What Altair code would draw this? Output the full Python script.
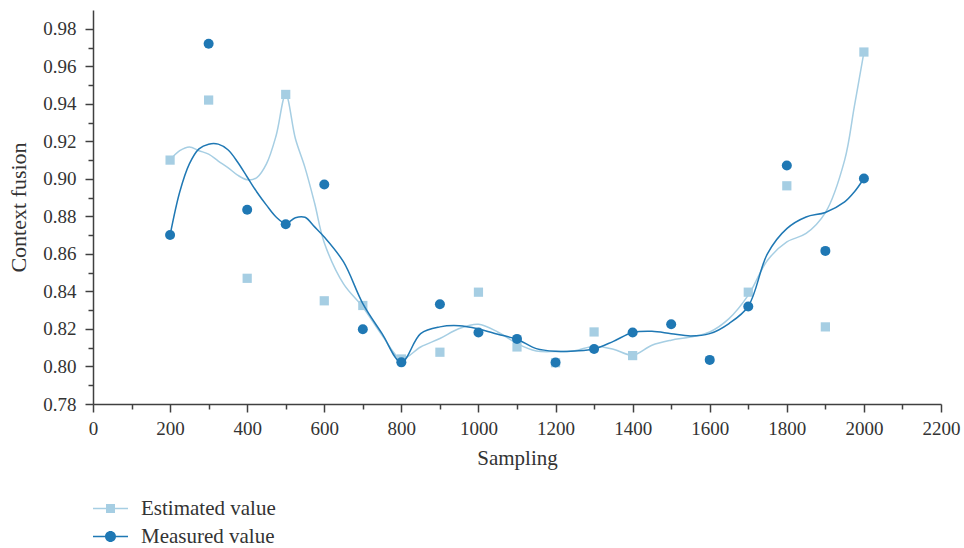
import altair as alt
import pandas as pd

# ---- data ----
series_names = ["Estimated value", "Measured value"]
sample_x = [200, 300, 400, 500, 600, 700, 800, 900, 1000, 1100, 1200, 1300, 1400,
            1500, 1600, 1700, 1800, 1900, 2000]
estimated = [0.910, 0.942, 0.847, 0.945, 0.835, 0.8325, 0.804, 0.8076, 0.8396, 0.8104,
             0.802, 0.8184, 0.8058, None, None, 0.8396, 0.8963, 0.8211, 0.9676]
measured = [0.8701, 0.972, 0.8835, 0.8758, 0.897, 0.8198, 0.8022, 0.8332, 0.8181, 0.8147,
            0.8021, 0.8093, 0.8181, 0.8225, 0.8035, 0.832, 0.9071, 0.8616, 0.9002]

# smoothed fit curves
curve_x = [200, 225, 250, 275, 300, 325, 350, 375, 400, 425, 450, 475, 500, 525, 550, 575,
           600, 650, 700, 750, 800, 850, 900, 950, 1000, 1050, 1100, 1150, 1200, 1250,
           1300, 1350, 1400, 1450, 1500, 1550, 1600, 1650, 1700, 1750, 1800, 1850, 1900,
           1950, 1975, 2000]
curve_est = [0.910, 0.915, 0.917, 0.915, 0.9132, 0.9095, 0.906, 0.902, 0.8995, 0.9007,
             0.908, 0.923, 0.945, 0.9215, 0.906, 0.887, 0.866, 0.844, 0.8317, 0.8166,
             0.804, 0.8104, 0.8149, 0.8202, 0.8225, 0.8184, 0.8122, 0.8083, 0.808, 0.8084,
             0.8108, 0.8092, 0.806, 0.8113, 0.814, 0.8157, 0.8184, 0.8255, 0.838, 0.8566,
             0.8664, 0.8709, 0.882, 0.910, 0.9384, 0.9674]
curve_meas = [0.870, 0.893, 0.908, 0.916, 0.9185, 0.9185, 0.9155, 0.909, 0.901, 0.893,
              0.886, 0.8797, 0.8762, 0.8793, 0.8795, 0.8744, 0.869, 0.8557, 0.8335, 0.8175,
              0.8022, 0.8175, 0.8211, 0.8217, 0.820, 0.8172, 0.8145, 0.8095, 0.8081, 0.8083,
              0.8093, 0.8134, 0.8181, 0.8188, 0.8175, 0.8163, 0.8175, 0.8229, 0.8321, 0.8602,
              0.8735, 0.8797, 0.8821, 0.8877, 0.893, 0.9002]

x_ticks = [0, 200, 400, 600, 800, 1000, 1200, 1400, 1600, 1800, 2000, 2200]
x_minor = [100, 300, 500, 700, 900, 1100, 1300, 1500, 1700, 1900, 2100]
y_ticks = [0.78, 0.80, 0.82, 0.84, 0.86, 0.88, 0.90, 0.92, 0.94, 0.96, 0.98]
y_minor = [0.79, 0.81, 0.83, 0.85, 0.87, 0.89, 0.91, 0.93, 0.95, 0.97]

LIGHT = "#a6cee3"
DARK = "#1f78b4"
AX = "#404040"
TXT = "#333333"
FONT = "Liberation Serif"

est_df = pd.DataFrame({"x": sample_x, "v": estimated, "series": series_names[0]}).dropna()
meas_df = pd.DataFrame({"x": sample_x, "v": measured, "series": series_names[1]})
cest_df = pd.DataFrame({"x": curve_x, "v": curve_est})
cmeas_df = pd.DataFrame({"x": curve_x, "v": curve_meas})

xs = alt.Scale(domain=[0, 2200], nice=False, zero=False)
ys = alt.Scale(domain=[0.78, 0.99], nice=False, zero=False)

main_x_axis = alt.Axis(values=x_ticks, orient="bottom", title="Sampling", grid=False, format="d",
                       tickSize=8, tickWidth=1.5, tickColor=AX, domainColor=AX, domainWidth=1.5,
                       labelFont=FONT, labelFontSize=19, labelColor=TXT, labelPadding=7,
                       labelFlush=False, labelOverlap=False,
                       titleFont=FONT, titleFontSize=21, titleFontWeight="normal",
                       titleColor=TXT, titlePadding=9)
main_y_axis = alt.Axis(values=y_ticks, orient="left", title="Context fusion", format=".2f",
                       grid=False, tickSize=8, tickWidth=1.5, tickColor=AX, domainColor=AX,
                       domainWidth=1.5, labelFont=FONT, labelFontSize=19, labelColor=TXT,
                       labelPadding=9, labelFlush=False, labelOverlap=False,
                       titleFont=FONT, titleFontSize=22, titleFontWeight="normal",
                       titleColor=TXT, titlePadding=12)
minor_x_axis = alt.Axis(values=x_minor, orient="bottom", title=None, labels=False, domain=False,
                        grid=False, tickSize=5, tickWidth=1.5, tickColor=AX)
minor_y_axis = alt.Axis(values=y_minor, orient="left", title=None, labels=False, domain=False,
                        grid=False, tickSize=5, tickWidth=1.5, tickColor=AX)

line_est = alt.Chart(cest_df).mark_line(color=LIGHT, strokeWidth=1.5, interpolate="catmull-rom").encode(
    x=alt.X("x:Q", scale=xs, axis=main_x_axis),
    y=alt.Y("v:Q", scale=ys, axis=main_y_axis),
)
pts_est = alt.Chart(est_df).mark_square(color=LIGHT, size=85, opacity=1).encode(
    x=alt.X("x:Q", scale=xs, axis=minor_x_axis),
    y=alt.Y("v:Q", scale=ys, axis=minor_y_axis),
)
line_meas = alt.Chart(cmeas_df).mark_line(color=DARK, strokeWidth=1.5, interpolate="catmull-rom").encode(
    x=alt.X("x:Q", scale=xs, axis=None),
    y=alt.Y("v:Q", scale=ys, axis=None),
)
pts_meas = alt.Chart(meas_df).mark_circle(color=DARK, size=100, opacity=1).encode(
    x=alt.X("x:Q", scale=xs, axis=None),
    y=alt.Y("v:Q", scale=ys, axis=None),
)

# legend glyphs: a thin filled bar (the line) plus the marker, all filled
SQ_PATH = "M-1.75,-0.075H1.75V0.075H-1.75Z M-0.45,-0.45H0.45V0.45H-0.45Z"
CI_PATH = ("M-1.75,-0.075H1.75V0.075H-1.75Z "
           "M-0.55,0A0.55,0.55,0,1,1,0.55,0A0.55,0.55,0,1,1,-0.55,0Z")


def legend_layer(df, name, color, path, ly):
    return alt.Chart(df).transform_filter("false").mark_point(
        filled=True, fill=color, opacity=1
    ).encode(
        shape=alt.Shape("series:N", scale=alt.Scale(domain=[name], range=[path]),
                        legend=alt.Legend(orient="none", legendX=7, legendY=ly, title=None,
                                          padding=0, symbolSize=400, symbolOpacity=1,
                                          symbolFillColor=color, symbolStrokeWidth=0,
                                          labelFont=FONT, labelFontSize=21, labelColor=TXT,
                                          labelOffset=20, labelLimit=400))
    )


leg_est = legend_layer(est_df, series_names[0], LIGHT, SQ_PATH, 488)
leg_meas = legend_layer(meas_df, series_names[1], DARK, CI_PATH, 516)

chart = alt.layer(line_est, pts_est, line_meas, pts_meas, leg_est, leg_meas).resolve_axis(
    x="independent", y="independent"
).resolve_scale(shape="independent").properties(
    width=848, height=394,
    autosize=alt.AutoSizeParams(type="none"),
    padding={"left": 93, "top": 10, "right": 23, "bottom": 144},
    background="white",
).configure_view(stroke=None)

chart.save("out.html", embed_options={"renderer": "svg", "actions": False})
